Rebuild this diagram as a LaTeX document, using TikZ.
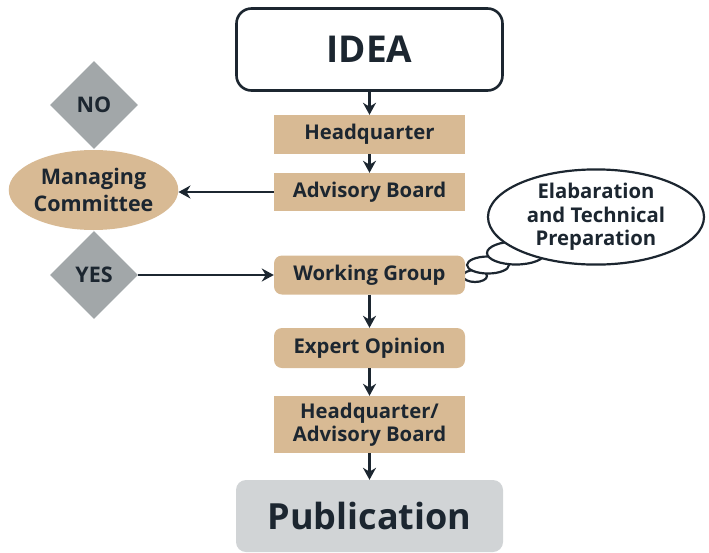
\documentclass[tikz,border=0pt]{standalone}
\usepackage{fontspec}
\setmainfont{Open Sans}
\usetikzlibrary{shapes.geometric,arrows.meta}
\definecolor{tan}{HTML}{D8BA94}
\definecolor{dgray}{HTML}{A2A7A9}
\definecolor{lgray}{HTML}{D1D4D6}
\definecolor{ink}{HTML}{1C2630}
\tikzset{
  lbl/.style={font=\fontsize{20.3}{23.5}\selectfont\bfseries, text=ink, align=center, inner sep=0pt},
  tanbox/.style={lbl, fill=tan, minimum width=191pt, minimum height=39pt},
  tanround/.style={tanbox, rounded corners=8pt},
  dia/.style={lbl, diamond, aspect=1, fill=dgray, minimum size=88pt, font=\fontsize{21.5}{24}\selectfont\bfseries},
  bubble/.style={ellipse, draw=ink, line width=2.2pt, fill=white, inner sep=0pt},
  arr/.style={draw=ink, line width=2.6pt, -{Stealth[length=12pt,width=13pt]}}
}
\begin{document}
\begin{tikzpicture}[x=1pt,y=-1pt]
\path[use as bounding box] (0,0) rectangle (709,552);
% thought bubbles (smallest first)
\node[bubble, minimum width=24pt, minimum height=12pt] (b3) at (475,276) {};
\node[bubble, minimum width=42pt, minimum height=17pt] (b2) at (488,265) {};
\node[bubble, minimum width=58pt, minimum height=23pt] (b1) at (516,253) {};
\node[bubble, lbl, minimum width=216pt, minimum height=86pt] (th) at (596,217) {Elabaration\\and Technical\\Preparation};
% main column
\node[lbl, draw=ink, line width=2.6pt, fill=white, rounded corners=15pt, minimum width=266pt, minimum height=82pt, font=\fontsize{37}{40}\selectfont\bfseries] (idea) at (369.5,49.5) {IDEA};
\node[tanbox] (hq1) at (369.5,134.5) {Headquarter};
\node[tanbox, minimum height=38pt] (ab) at (369.5,192) {Advisory Board};
\node[tanround] (wg) at (369.5,275) {Working Group};
\node[tanround, minimum height=40pt] (eo) at (369.5,348) {Expert Opinion};
\node[tanbox, minimum height=57pt] (hq2) at (369.5,424.5) {Headquarter/\\Advisory Board};
\node[lbl, fill=lgray, rounded corners=10pt, minimum width=267pt, minimum height=72pt, font=\fontsize{36}{40}\selectfont\bfseries] (pub) at (369.5,516) {Publication};
% left side
\node[dia] (no) at (94,105) {NO};
\node[lbl, ellipse, fill=tan, minimum width=164pt, minimum height=80pt, font=\fontsize{21.5}{27}\selectfont\bfseries] (mc) at (93.5,190) {Managing\\Committee};
\node[dia] (yes) at (94,275) {YES};
% connectors
\draw[arr] (idea.south) -- (hq1.north);
\draw[arr] (hq1.south) -- (ab.north);
\draw[arr] (ab.west) -- (ab.west -| mc.east);
\draw[arr] (yes.east) -- (wg.west);
\draw[arr] (wg.south) -- (eo.north);
\draw[arr] (eo.south) -- (hq2.north);
\draw[arr] (hq2.south) -- (pub.north);
\end{tikzpicture}
\end{document}
